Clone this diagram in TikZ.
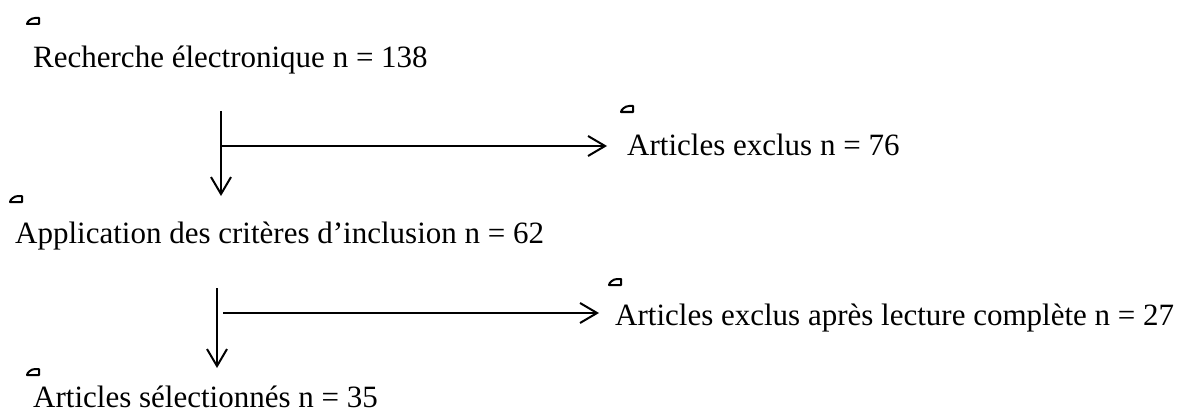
\documentclass[tikz,border=0pt]{standalone}
\usepackage{fontspec}
\setmainfont{Liberation Serif}
\usetikzlibrary{arrows.meta}
\begin{document}
\begin{tikzpicture}[x=1pt,y=-1pt,
  lbl/.style={anchor=base west,inner sep=0pt,font=\fontsize{31}{36}\selectfont},
  flow/.style={line width=2pt,-{Straight Barb[length=17pt,width=20pt,line width=2pt]}},
  bar/.style={line width=2pt},
  anchormark/.style={line width=2pt,line join=round}]
\useasboundingbox (0,0) rectangle (1187,412);
% texts
\node[lbl] (t1) at (33,67) {Recherche électronique n = 138};
\node[lbl] (e1) at (627,155) {Articles exclus n = 76};
\node[lbl] (t2) at (15,243) {Application des critères d’inclusion n = 62};
\node[lbl] (e2) at (615,325) {Articles exclus après lecture complète n = 27};
\node[lbl] (t3) at (33,407) {Articles sélectionnés n = 35};
% anchor marks
\foreach \mx/\my in {27/24, 621/112, 10/202, 609/285, 27/375}{
  \draw[anchormark] (\mx,\my) -- ++(12,0) -- ++(0,-6) -- ++(-4,0) .. controls ++(-4,0) and ++(0,-2) .. (\mx,\my) -- cycle;
}
% connectors
\coordinate (a1s) at (221,111);
\coordinate (a1e) at (221,196);
\coordinate (h1s) at (222,146);
\coordinate (h1e) at (607,146);
\draw[flow] (a1s) -- (a1e);
\draw[flow] (h1s) -- (h1e);
\coordinate (a2s) at (217,288);
\coordinate (a2e) at (217,368);
\coordinate (h2s) at (223,313);
\coordinate (h2e) at (599,313);
\draw[flow] (a2s) -- (a2e);
\draw[flow] (h2s) -- (h2e);
\end{tikzpicture}
\end{document}
